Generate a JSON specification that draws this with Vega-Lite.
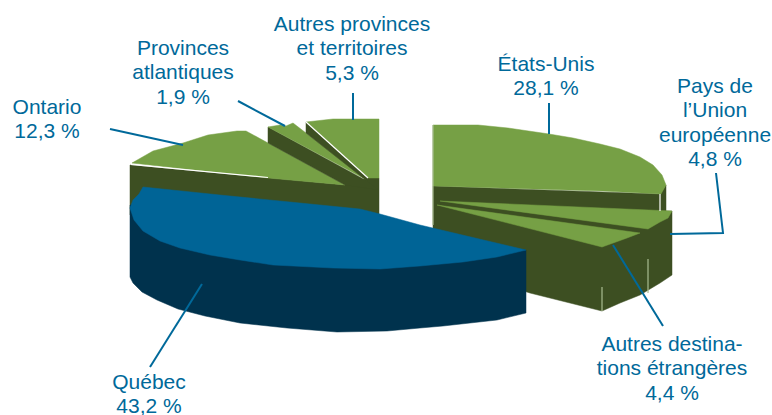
{
"$schema":"https://vega.github.io/schema/vega-lite/v6.json",
"width":772,"height":415,"padding":0,"autosize":"none","background":"white",
"config":{"view":{"stroke":null}},
"datasets":{
"faces":[
{"shape":"01 etrangeres flanc","part":"vert sombre","i":0,"x":433,"y":186},{"shape":"01 etrangeres flanc","part":"vert sombre","i":1,"x":660,"y":194},{"shape":"01 etrangeres flanc","part":"vert sombre","i":2,"x":666,"y":185},{"shape":"01 etrangeres flanc","part":"vert sombre","i":3,"x":666,"y":211},{"shape":"01 etrangeres flanc","part":"vert sombre","i":4,"x":672,"y":211},{"shape":"01 etrangeres flanc","part":"vert sombre","i":5,"x":672,"y":275},{"shape":"01 etrangeres flanc","part":"vert sombre","i":6,"x":660,"y":283},{"shape":"01 etrangeres flanc","part":"vert sombre","i":7,"x":640,"y":295},{"shape":"01 etrangeres flanc","part":"vert sombre","i":8,"x":620,"y":303},{"shape":"01 etrangeres flanc","part":"vert sombre","i":9,"x":602,"y":311},{"shape":"01 etrangeres flanc","part":"vert sombre","i":10,"x":530,"y":293},{"shape":"01 etrangeres flanc","part":"vert sombre","i":11,"x":433,"y":262},{"shape":"01 etrangeres flanc","part":"vert sombre","i":12,"x":433,"y":186},
{"shape":"02 Etats-Unis","part":"vert","i":0,"x":433,"y":125},{"shape":"02 Etats-Unis","part":"vert","i":1,"x":478,"y":125},{"shape":"02 Etats-Unis","part":"vert","i":2,"x":508,"y":128},{"shape":"02 Etats-Unis","part":"vert","i":3,"x":549,"y":134},{"shape":"02 Etats-Unis","part":"vert","i":4,"x":573,"y":138},{"shape":"02 Etats-Unis","part":"vert","i":5,"x":600,"y":144},{"shape":"02 Etats-Unis","part":"vert","i":6,"x":620,"y":149},{"shape":"02 Etats-Unis","part":"vert","i":7,"x":640,"y":157},{"shape":"02 Etats-Unis","part":"vert","i":8,"x":653,"y":165},{"shape":"02 Etats-Unis","part":"vert","i":9,"x":662,"y":175},{"shape":"02 Etats-Unis","part":"vert","i":10,"x":666,"y":185},{"shape":"02 Etats-Unis","part":"vert","i":11,"x":661,"y":194},{"shape":"02 Etats-Unis","part":"vert","i":12,"x":603,"y":191},{"shape":"02 Etats-Unis","part":"vert","i":13,"x":433,"y":186},{"shape":"02 Etats-Unis","part":"vert","i":14,"x":433,"y":125},
{"shape":"03 Union europeenne","part":"vert","i":0,"x":440,"y":201},{"shape":"03 Union europeenne","part":"vert","i":1,"x":672,"y":211},{"shape":"03 Union europeenne","part":"vert","i":2,"x":668,"y":218},{"shape":"03 Union europeenne","part":"vert","i":3,"x":660,"y":222},{"shape":"03 Union europeenne","part":"vert","i":4,"x":648,"y":229},{"shape":"03 Union europeenne","part":"vert","i":5,"x":440,"y":201},
{"shape":"04 Autres destinations","part":"vert","i":0,"x":437,"y":205},{"shape":"04 Autres destinations","part":"vert","i":1,"x":640,"y":233},{"shape":"04 Autres destinations","part":"vert","i":2,"x":627,"y":238},{"shape":"04 Autres destinations","part":"vert","i":3,"x":602,"y":247},{"shape":"04 Autres destinations","part":"vert","i":4,"x":437,"y":205},
{"shape":"05 canadien flanc","part":"vert sombre","i":0,"x":130,"y":165},{"shape":"05 canadien flanc","part":"vert sombre","i":1,"x":345,"y":185},{"shape":"05 canadien flanc","part":"vert sombre","i":2,"x":368,"y":178},{"shape":"05 canadien flanc","part":"vert sombre","i":3,"x":379,"y":178},{"shape":"05 canadien flanc","part":"vert sombre","i":4,"x":379,"y":216},{"shape":"05 canadien flanc","part":"vert sombre","i":5,"x":130,"y":215},{"shape":"05 canadien flanc","part":"vert sombre","i":6,"x":130,"y":165},
{"shape":"06 Ontario","part":"vert","i":0,"x":132,"y":163},{"shape":"06 Ontario","part":"vert","i":1,"x":153,"y":151},{"shape":"06 Ontario","part":"vert","i":2,"x":183,"y":143},{"shape":"06 Ontario","part":"vert","i":3,"x":208,"y":135},{"shape":"06 Ontario","part":"vert","i":4,"x":237,"y":131},{"shape":"06 Ontario","part":"vert","i":5,"x":246,"y":131},{"shape":"06 Ontario","part":"vert","i":6,"x":268,"y":143},{"shape":"06 Ontario","part":"vert","i":7,"x":345,"y":185},{"shape":"06 Ontario","part":"vert","i":8,"x":268,"y":178},{"shape":"06 Ontario","part":"vert","i":9,"x":132,"y":163},
{"shape":"07 atlantiques flanc","part":"vert sombre","i":0,"x":268,"y":127},{"shape":"07 atlantiques flanc","part":"vert sombre","i":1,"x":367,"y":181},{"shape":"07 atlantiques flanc","part":"vert sombre","i":2,"x":379,"y":190},{"shape":"07 atlantiques flanc","part":"vert sombre","i":3,"x":345,"y":185},{"shape":"07 atlantiques flanc","part":"vert sombre","i":4,"x":268,"y":143},{"shape":"07 atlantiques flanc","part":"vert sombre","i":5,"x":268,"y":127},
{"shape":"08 atlantiques","part":"vert","i":0,"x":268,"y":127},{"shape":"08 atlantiques","part":"vert","i":1,"x":280,"y":125},{"shape":"08 atlantiques","part":"vert","i":2,"x":286,"y":126},{"shape":"08 atlantiques","part":"vert","i":3,"x":293,"y":123},{"shape":"08 atlantiques","part":"vert","i":4,"x":367,"y":180},{"shape":"08 atlantiques","part":"vert","i":5,"x":268,"y":127},
{"shape":"09 autres flanc","part":"vert sombre","i":0,"x":306,"y":122},{"shape":"09 autres flanc","part":"vert sombre","i":1,"x":368,"y":178},{"shape":"09 autres flanc","part":"vert sombre","i":2,"x":367,"y":181},{"shape":"09 autres flanc","part":"vert sombre","i":3,"x":306,"y":133},{"shape":"09 autres flanc","part":"vert sombre","i":4,"x":306,"y":122},
{"shape":"10 autres provinces","part":"vert","i":0,"x":306,"y":122},{"shape":"10 autres provinces","part":"vert","i":1,"x":333,"y":119},{"shape":"10 autres provinces","part":"vert","i":2,"x":379,"y":119},{"shape":"10 autres provinces","part":"vert","i":3,"x":379,"y":178},{"shape":"10 autres provinces","part":"vert","i":4,"x":368,"y":178},{"shape":"10 autres provinces","part":"vert","i":5,"x":306,"y":122},
{"shape":"11 Quebec flanc","part":"bleu sombre","i":0,"x":130,"y":205},{"shape":"11 Quebec flanc","part":"bleu sombre","i":1,"x":526,"y":250},{"shape":"11 Quebec flanc","part":"bleu sombre","i":2,"x":526,"y":313},{"shape":"11 Quebec flanc","part":"bleu sombre","i":3,"x":497,"y":320},{"shape":"11 Quebec flanc","part":"bleu sombre","i":4,"x":443,"y":326},{"shape":"11 Quebec flanc","part":"bleu sombre","i":5,"x":420,"y":328},{"shape":"11 Quebec flanc","part":"bleu sombre","i":6,"x":387,"y":331},{"shape":"11 Quebec flanc","part":"bleu sombre","i":7,"x":337,"y":332},{"shape":"11 Quebec flanc","part":"bleu sombre","i":8,"x":287,"y":328},{"shape":"11 Quebec flanc","part":"bleu sombre","i":9,"x":240,"y":323},{"shape":"11 Quebec flanc","part":"bleu sombre","i":10,"x":205,"y":316},{"shape":"11 Quebec flanc","part":"bleu sombre","i":11,"x":178,"y":309},{"shape":"11 Quebec flanc","part":"bleu sombre","i":12,"x":157,"y":300},{"shape":"11 Quebec flanc","part":"bleu sombre","i":13,"x":142,"y":292},{"shape":"11 Quebec flanc","part":"bleu sombre","i":14,"x":133,"y":283},{"shape":"11 Quebec flanc","part":"bleu sombre","i":15,"x":130,"y":277},{"shape":"11 Quebec flanc","part":"bleu sombre","i":16,"x":130,"y":205},
{"shape":"12 Quebec","part":"bleu","i":0,"x":143,"y":187},{"shape":"12 Quebec","part":"bleu","i":1,"x":220,"y":195},{"shape":"12 Quebec","part":"bleu","i":2,"x":290,"y":202},{"shape":"12 Quebec","part":"bleu","i":3,"x":360,"y":209},{"shape":"12 Quebec","part":"bleu","i":4,"x":380,"y":214},{"shape":"12 Quebec","part":"bleu","i":5,"x":420,"y":225},{"shape":"12 Quebec","part":"bleu","i":6,"x":526,"y":250},{"shape":"12 Quebec","part":"bleu","i":7,"x":497,"y":257},{"shape":"12 Quebec","part":"bleu","i":8,"x":463,"y":262},{"shape":"12 Quebec","part":"bleu","i":9,"x":420,"y":266},{"shape":"12 Quebec","part":"bleu","i":10,"x":380,"y":269},{"shape":"12 Quebec","part":"bleu","i":11,"x":333,"y":268},{"shape":"12 Quebec","part":"bleu","i":12,"x":273,"y":265},{"shape":"12 Quebec","part":"bleu","i":13,"x":240,"y":260},{"shape":"12 Quebec","part":"bleu","i":14,"x":210,"y":255},{"shape":"12 Quebec","part":"bleu","i":15,"x":180,"y":248},{"shape":"12 Quebec","part":"bleu","i":16,"x":160,"y":241},{"shape":"12 Quebec","part":"bleu","i":17,"x":143,"y":231},{"shape":"12 Quebec","part":"bleu","i":18,"x":134,"y":220},{"shape":"12 Quebec","part":"bleu","i":19,"x":130,"y":208},{"shape":"12 Quebec","part":"bleu","i":20,"x":133,"y":200},{"shape":"12 Quebec","part":"bleu","i":21,"x":139,"y":194},{"shape":"12 Quebec","part":"bleu","i":22,"x":143,"y":187}
],
"edges":[
{"edge":"a","kind":"blanc","i":0,"x":131,"y":164.5},{"edge":"a","kind":"blanc","i":1,"x":268,"y":177.5},
{"edge":"b","kind":"blanc","i":0,"x":306,"y":122},{"edge":"b","kind":"blanc","i":1,"x":368,"y":178},
{"edge":"c","kind":"blanc","i":0,"x":660,"y":194},{"edge":"c","kind":"blanc","i":1,"x":660,"y":211},
{"edge":"d","kind":"clair","i":0,"x":433,"y":125},{"edge":"d","kind":"clair","i":1,"x":433,"y":225},
{"edge":"e","kind":"clair","i":0,"x":602,"y":287},{"edge":"e","kind":"clair","i":1,"x":602,"y":311},
{"edge":"f","kind":"clair","i":0,"x":648,"y":259},{"edge":"f","kind":"clair","i":1,"x":648,"y":293}
],
"leaders":[
{"leader":"Ontario","i":0,"x":110,"y":129},{"leader":"Ontario","i":1,"x":183,"y":145},
{"leader":"Atlantiques","i":0,"x":238,"y":101},{"leader":"Atlantiques","i":1,"x":285,"y":126},
{"leader":"Autres provinces","i":0,"x":353,"y":93},{"leader":"Autres provinces","i":1,"x":353,"y":120},
{"leader":"Etats-Unis","i":0,"x":549,"y":103},{"leader":"Etats-Unis","i":1,"x":549,"y":134},
{"leader":"UE","i":0,"x":716,"y":173},{"leader":"UE","i":1,"x":723,"y":233},{"leader":"UE","i":2,"x":670,"y":234},
{"leader":"Autres destinations","i":0,"x":613,"y":245},{"leader":"Autres destinations","i":1,"x":663,"y":326},
{"leader":"Quebec","i":0,"x":202,"y":284},{"leader":"Quebec","i":1,"x":150,"y":367}
],
"labels":[
{"label":"Autres provinces\net territoires\n5,3 %","x":352,"y":14},
{"label":"Provinces\natlantiques\n1,9 %","x":183,"y":38},
{"label":"Ontario\n12,3 %","x":47,"y":97},
{"label":"États-Unis\n28,1 %","x":546,"y":54},
{"label":"Pays de\nl’Union\neuropéenne\n4,8 %","x":715,"y":76},
{"label":"Autres destina-\ntions étrangères\n4,4 %","x":672,"y":334},
{"label":"Québec\n43,2 %","x":149,"y":372}
]
},
"layer":[
{"data":{"name":"faces"},
 "mark":{"type":"line","strokeWidth":0.5},
 "encoding":{
  "x":{"field":"x","type":"quantitative","scale":{"domain":[0,772]},"axis":null},
  "y":{"field":"y","type":"quantitative","scale":{"domain":[415,0]},"axis":null},
  "detail":{"field":"shape"},
  "order":{"field":"i"},
  "fill":{"field":"part","type":"nominal","legend":null,"scale":{"domain":["vert","vert sombre","bleu","bleu sombre"],"range":["#76A045","#3D4F22","#006496","#00324D"]}},
  "stroke":{"field":"part","type":"nominal","legend":null,"scale":{"domain":["vert","vert sombre","bleu","bleu sombre"],"range":["#76A045","#3D4F22","#006496","#00324D"]}}
 }},
{"data":{"name":"edges"},
 "mark":{"type":"line","strokeWidth":1.2},
 "encoding":{
  "x":{"field":"x","type":"quantitative","scale":{"domain":[0,772]},"axis":null},
  "y":{"field":"y","type":"quantitative","scale":{"domain":[415,0]},"axis":null},
  "detail":{"field":"edge"},
  "order":{"field":"i"},
  "color":{"field":"kind","type":"nominal","legend":null,"scale":{"domain":["blanc","clair"],"range":["#FFFFFF","#A9BD92"]}}
 }},
{"data":{"name":"leaders"},
 "mark":{"type":"line","strokeWidth":2,"color":"#00699A"},
 "encoding":{
  "x":{"field":"x","type":"quantitative","scale":{"domain":[0,772]},"axis":null},
  "y":{"field":"y","type":"quantitative","scale":{"domain":[415,0]},"axis":null},
  "detail":{"field":"leader"},
  "order":{"field":"i"}
 }},
{"data":{"name":"labels"},
 "mark":{"type":"text","font":"Liberation Sans","fontSize":21,"lineHeight":24.3,"lineBreak":"\n","align":"center","baseline":"top","color":"#00699A"},
 "encoding":{
  "x":{"field":"x","type":"quantitative","scale":{"domain":[0,772]},"axis":null},
  "y":{"field":"y","type":"quantitative","scale":{"domain":[415,0]},"axis":null},
  "text":{"field":"label"}
 }}
]
}
